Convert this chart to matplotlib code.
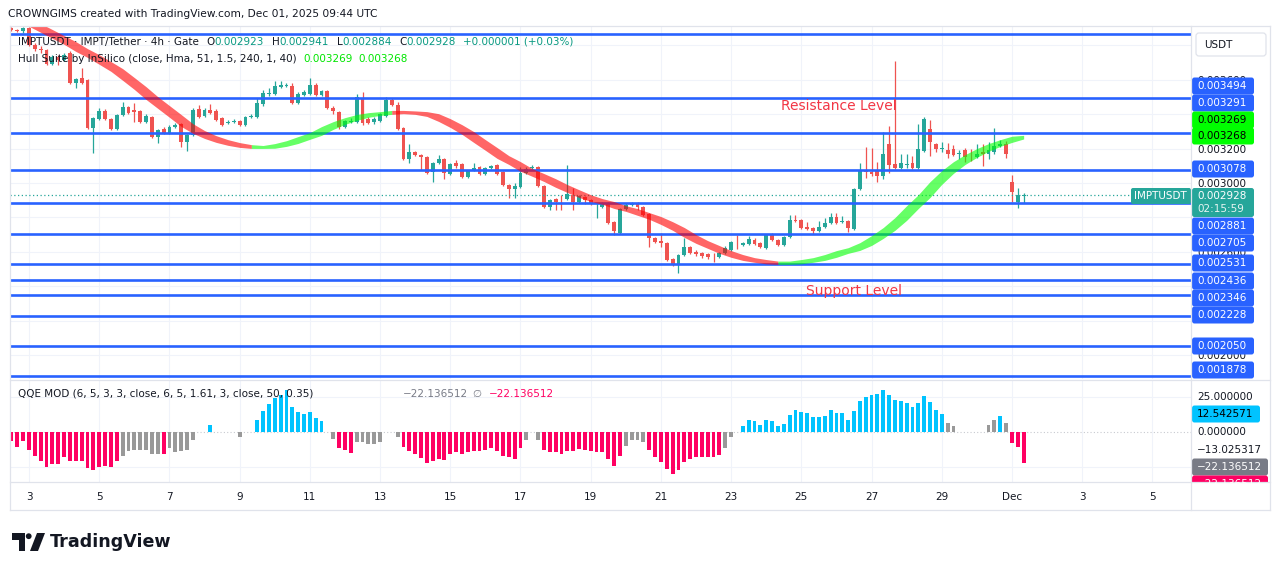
import numpy as np
import matplotlib.pyplot as plt
from matplotlib.patches import Rectangle, Polygon, Circle, FancyBboxPatch

W, H = 1281, 571
plt.rcParams['font.family'] = ['DejaVu Sans']

# 4h candles, index 0 = Nov 3 00:00 UTC, prices in 1e-6 USDT
first_idx = -3
opens = [3901, 3890, 3884, 3901, 3802, 3779, 3773, 3692, 3733, 3715,
         3756, 3581, 3610, 3599, 3320, 3372, 3419, 3372, 3314, 3395,
         3442, 3424, 3419, 3355, 3384, 3267, 3314, 3291, 3326, 3343,
         3238, 3279, 3430, 3390, 3424, 3419, 3378, 3349, 3355, 3360,
         3337, 3384, 3384, 3459, 3517, 3517, 3558, 3564, 3564, 3465,
         3512, 3517, 3570, 3512, 3535, 3436, 3413, 3326, 3355, 3355,
         3494, 3372, 3355, 3360, 3390, 3483, 3453, 3320, 3140, 3180,
         3163, 3151, 3064, 3116, 3140, 3052, 3116, 3110, 3035, 3076,
         3093, 3052, 3087, 3105, 3064, 2988, 2965, 2977, 3058, 3087,
         3093, 2983, 2860, 2907, 2901, 2907, 2930, 2890, 2919, 2901,
         2878, 2860, 2884, 2773, 2709, 2849, 2872, 2884, 2860, 2820,
         2680, 2663, 2651, 2558, 2523, 2581, 2628, 2599, 2593, 2587,
         2576, 2570, 2593, 2610, 2657, 2640, 2645, 2669, 2651, 2622,
         2698, 2669, 2640, 2686, 2785, 2785, 2744, 2738, 2721, 2744,
         2767, 2802, 2773, 2779, 2733, 2965, 3070, 3064, 3076, 3041,
         3227, 3110, 3087, 3105, 3116, 3087, 3186, 3314, 3227, 3198,
         3192, 3198, 3169, 3192, 3169, 3151, 3180, 3169, 3180, 3215,
         3227, 3006, 2890, 2923]
highs = [3907, 3895, 3907, 3907, 3814, 3797, 3779, 3744, 3744, 3756,
         3767, 3610, 3669, 3605, 3384, 3436, 3430, 3378, 3401, 3471,
         3448, 3465, 3424, 3401, 3390, 3314, 3326, 3337, 3349, 3349,
         3285, 3436, 3453, 3436, 3459, 3430, 3384, 3366, 3372, 3366,
         3390, 3401, 3494, 3541, 3552, 3593, 3593, 3581, 3581, 3529,
         3541, 3610, 3581, 3541, 3541, 3448, 3419, 3366, 3378, 3517,
         3529, 3384, 3384, 3407, 3500, 3494, 3471, 3326, 3227, 3186,
         3169, 3157, 3122, 3163, 3145, 3116, 3134, 3116, 3076, 3116,
         3099, 3093, 3105, 3110, 3070, 2994, 3000, 3093, 3093, 3105,
         3099, 2988, 2907, 2913, 2930, 3105, 2971, 2930, 2924, 2907,
         2884, 2890, 2890, 2779, 2855, 2884, 2890, 2890, 2866, 2826,
         2686, 2709, 2657, 2564, 2587, 2680, 2634, 2610, 2599, 2593,
         2593, 2599, 2634, 2663, 2698, 2657, 2692, 2680, 2657, 2704,
         2709, 2674, 2692, 2814, 2814, 2791, 2773, 2744, 2779, 2797,
         2826, 2826, 2808, 2785, 2971, 3116, 3209, 3203, 3122, 3297,
         3329, 3709, 3169, 3169, 3157, 3343, 3384, 3366, 3233, 3238,
         3233, 3221, 3192, 3203, 3198, 3227, 3227, 3238, 3320, 3250,
         3244, 3047, 2971, 2941]
lows = [3884, 3878, 3872, 3797, 3767, 3756, 3686, 3686, 3686, 3709,
        3576, 3552, 3576, 3314, 3174, 3366, 3366, 3308, 3308, 3390,
        3401, 3355, 3349, 3349, 3262, 3233, 3285, 3285, 3320, 3209,
        3186, 3273, 3378, 3384, 3401, 3360, 3331, 3343, 3349, 3331,
        3331, 3378, 3378, 3448, 3506, 3512, 3552, 3558, 3459, 3459,
        3506, 3512, 3506, 3506, 3430, 3401, 3314, 3320, 3349, 3349,
        3337, 3343, 3343, 3355, 3384, 3448, 3308, 3134, 3116, 3157,
        3076, 3052, 3006, 3110, 3023, 3047, 3087, 3029, 3029, 3070,
        3047, 3047, 3081, 3047, 2983, 2913, 2913, 2971, 3052, 3081,
        2977, 2855, 2843, 2843, 2843, 2901, 2843, 2884, 2878, 2872,
        2797, 2855, 2762, 2698, 2704, 2843, 2866, 2843, 2808, 2628,
        2651, 2628, 2546, 2517, 2477, 2576, 2587, 2576, 2564, 2558,
        2541, 2564, 2587, 2605, 2617, 2634, 2640, 2640, 2622, 2617,
        2663, 2634, 2634, 2680, 2773, 2733, 2727, 2704, 2715, 2738,
        2762, 2762, 2767, 2715, 2727, 2959, 3029, 3041, 3006, 3023,
        3058, 3081, 3081, 3087, 3081, 3081, 3180, 3157, 3180, 3180,
        3145, 3157, 3140, 3122, 3128, 3145, 3099, 3140, 3169, 3209,
        3145, 2890, 2855, 2884]
closes = [3890, 3884, 3901, 3802, 3779, 3773, 3692, 3733, 3715, 3744,
          3581, 3605, 3581, 3320, 3378, 3419, 3372, 3314, 3395, 3442,
          3407, 3413, 3355, 3390, 3267, 3308, 3291, 3326, 3337, 3238,
          3279, 3424, 3384, 3424, 3407, 3366, 3337, 3355, 3360, 3337,
          3384, 3390, 3465, 3523, 3523, 3564, 3570, 3570, 3465, 3517,
          3529, 3570, 3512, 3535, 3436, 3419, 3326, 3360, 3360, 3500,
          3349, 3349, 3372, 3401, 3483, 3453, 3314, 3140, 3180, 3163,
          3151, 3058, 3116, 3140, 3058, 3110, 3099, 3035, 3070, 3087,
          3052, 3087, 3099, 3052, 2988, 2965, 2983, 3058, 3081, 3093,
          2983, 2860, 2901, 2890, 2899, 2936, 2890, 2924, 2901, 2878,
          2880, 2884, 2767, 2721, 2849, 2872, 2884, 2860, 2814, 2680,
          2657, 2651, 2552, 2523, 2581, 2628, 2593, 2587, 2576, 2570,
          2574, 2593, 2622, 2657, 2655, 2651, 2674, 2645, 2628, 2698,
          2669, 2640, 2686, 2785, 2779, 2738, 2733, 2721, 2744, 2767,
          2802, 2767, 2779, 2738, 2965, 3076, 3064, 3052, 3041, 3169,
          3105, 3087, 3116, 3110, 3087, 3198, 3372, 3238, 3198, 3203,
          3169, 3163, 3174, 3151, 3167, 3169, 3169, 3192, 3215, 3227,
          3169, 2948, 2930, 2928]

# Hull Suite line, read every 2 bars (index -2, 0, 2, ... 170)
hull_first = -2
hull = [3954, 3919, 3884, 3849, 3814, 3773, 3738, 3698, 3657, 3605,
        3552, 3494, 3442, 3390, 3337, 3297, 3267, 3244, 3227, 3215,
        3209, 3210, 3221, 3238, 3262, 3285, 3320, 3349, 3372, 3390,
        3401, 3407, 3414, 3411, 3407, 3395, 3366, 3331, 3291, 3244,
        3198, 3151, 3116, 3076, 3047, 3017, 2983, 2953, 2924, 2901,
        2884, 2860, 2843, 2820, 2797, 2767, 2733, 2692, 2657, 2628,
        2599, 2576, 2558, 2547, 2538, 2535, 2538, 2547, 2558, 2576,
        2599, 2616, 2645, 2686, 2733, 2791, 2860, 2924, 3000, 3064,
        3116, 3157, 3192, 3221, 3244, 3264, 3269]

# QQE MOD histogram (same bars as candles); state: p = below, b = above, g = neutral, - = none
nan = np.nan
qqe = [-6.7, -11, -6.2, -12.6, -17, -21, -25, -23, -23, -18,
       -21, -21, -21, -26, -27, -25, -24.5, -25, -21, -17,
       -13.8, -12.6, -12.6, -13, -16, -16, -16, -11.4, -14.5, -13.8,
       -13, -5.5, nan, nan, 5.2, nan, nan, nan, nan, -3.5,
       nan, nan, 8.8, 15, 20, 24, 26.4, 30, 18, 14.6,
       12.7, 14, 10, 8, nan, -4.7, -11.4, -13, -15, -7.3,
       -7.3, -8.3, -8.5, -7, nan, nan, -3.5, -10.6, -13.8, -16,
       -18.4, -22, -20.5, -19, -19.7, -16, -14.5, -16, -14.5, -13.8,
       -13.8, -12.6, -11.4, -13.8, -17, -17.9, -19, -11.4, -6, nan,
       -5.5, -12.6, -14.5, -14.5, -15.7, -13.8, -13.3, -12.1, -12.6, -13.8,
       -14.3, -14.3, -19.3, -24, -17, -9.8, -6, -5.5, -7, -12.9,
       -18.2, -21.7, -26.4, -30, -26.9, -21.7, -19.4, -18, -18, -18,
       -18.2, -16.4, -11.7, -3.5, nan, 4, 8.6, 7.5, 4.7, 8.2,
       7.5, 4, 5.8, 12.4, 15.9, 14.5, 13.3, 10.5, 10.5, 11.7,
       15.9, 13.6, 13.3, 8.2, 15.2, 22.2, 25.2, 26.4, 26.9, 29.7,
       26.2, 22.9, 22.2, 20.6, 18, 20.6, 25.7, 21.5, 15.9, 12.9,
       6.3, 4, nan, nan, nan, nan, nan, 5.1, 8.6, 11.7,
       6.3, -7.7, -10.5, -22.14]
qqe_state = ("pppppppppp" "pppppppppg" "ggggggpggg" "gg--b----g" "--bbbbbbbb"
             "bbbb-gpppg" "gggg--gppp" "pppppppppp" "ppppppppg-" "gppppppppp"
             "pppppggggp" "pppppppppp" "ppgg-bbbbb" "bbbbbbbbbb" "bbbbbbbbbb"
             "bbbbbbbbbb" "gg-----ggb" "gppp")

levels = [0.003866, 0.003494, 0.003291, 0.003078, 0.002881, 0.002705,
          0.002531, 0.002436, 0.002346, 0.002228, 0.002050, 0.001878]
level_labels = ['0.003494', '0.003291', '0.003078', '0.002881', '0.002705', '0.002531',
                '0.002436', '0.002346', '0.002228', '0.002050', '0.001878']
last_price = 0.002928
price_ticks = [0.0020, 0.0022, 0.0024, 0.0026, 0.0028, 0.0030, 0.0032, 0.0034, 0.0036, 0.0038]
price_tick_labels = ['0.002000', '', '', '0.002600', '', '0.003000', '0.003200', '', '0.003600', '']
day_ticks = list(range(0, 193, 12))
day_labels = ['3', '5', '7', '9', '11', '13', '15', '17', '19', '21', '23', '25',
              '27', '29', 'Dec', '3', '5']

up_c, dn_c = '#26a69a', '#ef5350'
blue = '#2962ff'
grid_c = '#f0f3fa'
txt_c = '#131722'

fig = plt.figure(figsize=(W / 100, H / 100), dpi=100)
fig.patch.set_facecolor('white')


def box(x0, y0, x1, y1):
    return [x0 / W, 1 - y1 / H, (x1 - x0) / W, (y1 - y0) / H]


ax = fig.add_axes(box(10, 26, 1191, 379))
ax2 = fig.add_axes(box(10, 380, 1191, 482))
xmin, xmax = -3.25, 198.6
for a in (ax, ax2):
    a.set_xlim(xmin, xmax)
    for s in a.spines.values():
        s.set_visible(False)
    for d in day_ticks:
        a.axvline(d, color=grid_c, lw=0.8, zorder=0)

# ---- main price pane
x = np.arange(first_idx, first_idx + len(closes))
o = np.array(opens) * 1e-6
h = np.array(highs) * 1e-6
l = np.array(lows) * 1e-6
c = np.array(closes) * 1e-6
cols = np.where(c >= o, up_c, dn_c)
ax.vlines(x, l, h, colors=cols, lw=0.9, zorder=2)
ax.bar(x, np.maximum(np.abs(c - o), 4e-6), bottom=np.minimum(o, c), width=0.66,
       color=cols, lw=0, zorder=2)

ax.hlines(levels, xmin, xmax, color=blue, lw=1.9, zorder=3)
ax.axhline(last_price, color=up_c, lw=0.9, ls=(0, (1, 2)), zorder=3)

# hull band between hull and hull two bars back
hx = np.arange(hull_first, hull_first + 2 * len(hull), 2)[1:]
hv = np.array(hull) * 1e-6
m, s = hv[1:], hv[:-1]
rising = m > s
d = 8e-6
top = np.maximum(m, s) + d
bot = np.minimum(m, s) - d
start = 0
for i in range(1, len(hx) + 1):
    if i == len(hx) or rising[i] != rising[start]:
        sl = slice(max(start - 1, 0), i)
        ax.fill_between(hx[sl], bot[sl], top[sl], color='#00ff00' if rising[start] else '#ff0000',
                        alpha=0.6, lw=0, zorder=4)
        start = i

ax.set_ylim(0.0018605, 0.0039128)
ax.set_xticks([])
ax.set_yticks(price_ticks)
ax.set_yticklabels(price_tick_labels)
ax.yaxis.tick_right()
ax.tick_params(axis='y', length=0, pad=4.5, labelsize=7.5, labelcolor=txt_c)
ax.grid(axis='y', color=grid_c, lw=0.8, zorder=0)

# ---- QQE pane
qcol = {'p': '#ff0062', 'b': '#00c3ff', 'g': '#999999', '-': '#ffffff'}
ax2.bar(x, qqe, width=0.66, color=[qcol[k] for k in qqe_state], lw=0, zorder=2)
ax2.set_ylim(-35.7, 37.1)
ax2.axhline(25, color=grid_c, lw=0.8, zorder=0)
ax2.axhline(-25, color=grid_c, lw=0.8, zorder=0)
ax2.axhline(0, color='#c8cad0', lw=0.8, ls=(0, (1, 2)), zorder=1)
ax2.set_yticks([])
ax2.set_xticks(day_ticks)
ax2.set_xticklabels(day_labels)
ax2.tick_params(axis='x', length=0, pad=7, labelsize=7.5, labelcolor=txt_c)

# ---- overlay in pixel coordinates
ov = fig.add_axes([0, 0, 1, 1], zorder=5)
ov.set_xlim(0, W)
ov.set_ylim(H, 0)
ov.axis('off')

frame = '#e0e3eb'
for xa, ya, xb, yb in [(10, 26, 1270, 26), (10, 510, 1270, 510), (10, 26, 10, 510),
                       (1270, 26, 1270, 510), (1191, 26, 1191, 510),
                       (10, 379.5, 1270, 379.5), (10, 482, 1270, 482)]:
    ov.plot([xa, xb], [ya, yb], color=frame, lw=0.9)


def tag(y, s, fc, tc, w=62, clip=None):
    p = FancyBboxPatch((1192, y - 8.5), w, 17, boxstyle='round,pad=0,rounding_size=2.5',
                       fc=fc, ec='none')
    ov.add_patch(p)
    t = ov.text(1197, y, s, color=tc, fontsize=7.5, va='center', ha='left')
    if clip is not None:
        p.set_clip_path(clip)
        t.set_clip_path(clip)


label_y = [86, 103, 169, 226, 243, 263, 281, 298, 315, 346, 370]
for lab, yy in zip(level_labels, label_y):
    tag(yy, lab, blue, 'white')
tag(120, '0.003269', '#00ff00', 'black')
tag(136, '0.003268', '#00ff00', 'black')
ov.add_patch(FancyBboxPatch((1192, 188), 62, 29, boxstyle='round,pad=0,rounding_size=2.5',
                            fc=up_c, ec='none'))
ov.text(1197, 196, '0.002928', color='white', fontsize=7.5, va='center')
ov.text(1197, 209, '02:15:59', color='#e6f4f2', fontsize=7.5, va='center')
ov.add_patch(FancyBboxPatch((1131, 188), 60, 16, boxstyle='round,pad=0,rounding_size=2',
                            fc=up_c, ec='none'))
ov.text(1134, 196, 'IMPTUSDT', color='white', fontsize=7.5, va='center')
ov.add_patch(FancyBboxPatch((1196, 33), 70, 23, boxstyle='round,pad=0,rounding_size=3',
                            fc='white', ec=frame, lw=0.9))
ov.text(1204, 44.5, 'USDT', color=txt_c, fontsize=7.5, va='center')

# QQE axis labels
ov.text(1197, 397, '25.000000', color=txt_c, fontsize=7.5, va='center')
tag(414, '12.542571', '#00c3ff', 'black', w=68)
ov.text(1197, 432, '0.000000', color=txt_c, fontsize=7.5, va='center')
ov.text(1197, 450, '\u221213.025317', color=txt_c, fontsize=7.5, va='center')
tag(467, '\u221222.136512', '#787b86', 'white', w=76)
clip = Rectangle((1192, 380), 78, 101.5, transform=ov.transData)
tag(484, '\u221222.136512', '#ff0062', 'white', w=76, clip=clip)

# header and legends
ov.text(8, 14, 'CROWNGIMS created with TradingView.com, Dec 01, 2025 09:44 UTC',
        color=txt_c, fontsize=7.7, va='center')


def chain(x0, y0, parts, size=7.5):
    t = ov.text(x0, y0, parts[0][0], color=parts[0][1], fontsize=size, va='center')
    for s_, col, gap in parts[1:]:
        t = ov.annotate(s_, xy=(1, 0.5), xycoords=t, xytext=(gap, 0), textcoords='offset points',
                        color=col, fontsize=size, va='center', ha='left')


val_c = '#089981'
chain(18, 42, [('IMPTUSDT \u00b7 IMPT/Tether \u00b7 4h \u00b7 Gate', txt_c),
               ('O', txt_c, 5.5), ('0.002923', val_c, 0),
               ('H', txt_c, 5.5), ('0.002941', val_c, 0),
               ('L', txt_c, 5.5), ('0.002884', val_c, 0),
               ('C', txt_c, 5.5), ('0.002928', val_c, 0),
               ('+0.000001 (+0.03%)', val_c, 5)])
chain(18, 59, [('Hull Suite by InSilico (close, Hma, 51, 1.5, 240, 1, 40)', txt_c),
               ('0.003269', '#00e600', 5), ('0.003268', '#00e600', 4)])
ov.text(18, 394, 'QQE MOD (6, 5, 3, 3, close, 6, 5, 1.61, 3, close, 50, 0.35)',
        color=txt_c, fontsize=7.5, va='center')
ov.text(403, 394, '\u221222.136512', color='#787b86', fontsize=7.5, va='center')
ov.text(472, 394, '\u2205', color='#787b86', fontsize=7.5, va='center')
ov.text(489, 394, '\u221222.136512', color='#ff0062', fontsize=7.5, va='center')

ov.text(781, 106, 'Resistance Level', color='#f23645', fontsize=10, va='center')
ov.text(806, 291, 'Support Level', color='#f23645', fontsize=10, va='center')

# TradingView logo
ov.add_patch(Polygon([(12, 533), (25, 533), (25, 551), (18.5, 551), (18.5, 539.5), (12, 539.5)],
                     closed=True, fc=txt_c, ec='none'))
ov.add_patch(Circle((28.7, 536.2), 2.9, fc=txt_c, ec='none'))
ov.add_patch(Polygon([(37, 533), (45, 533), (38, 551), (30, 551)], closed=True, fc=txt_c, ec='none'))
ov.text(50, 542, 'TradingView', color=txt_c, fontsize=12.6, fontweight='bold', va='center')

fig.savefig('out.png', dpi=100, facecolor='white')
